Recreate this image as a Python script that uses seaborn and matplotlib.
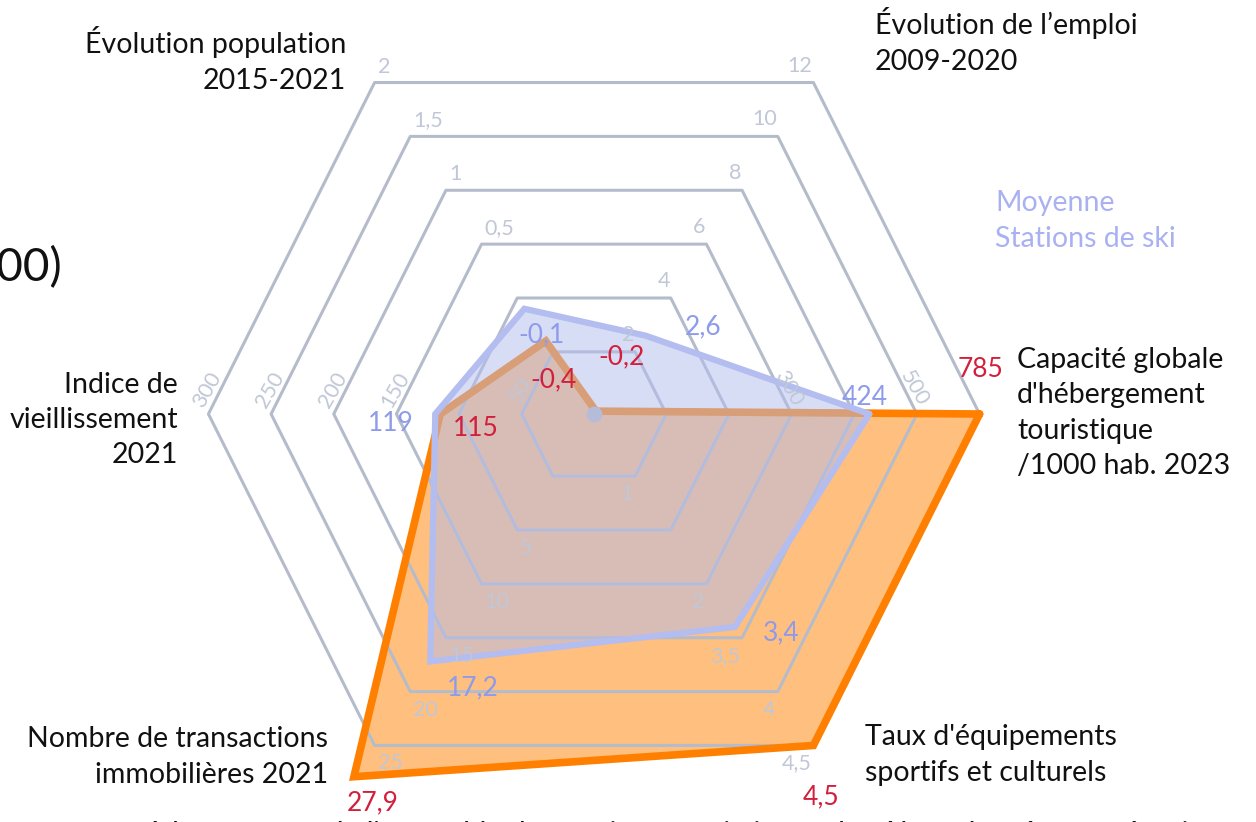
import numpy as np
import pandas as pd
import seaborn as sns
import matplotlib.pyplot as plt

# spokes, counterclockwise starting from the right-hand one
spoke_titles = [
    "Capacité globale\nd'hébergement\ntouristique\n/1000 hab. 2023",
    "Évolution de l’emploi\n2009-2020",
    "Évolution population\n2015-2021",
    "Indice de\nvieillissement\n2021",
    "Nombre de transactions\nimmobilières 2021",
    "Taux d'équipements\nsportifs et culturels",
]

# the station (orange) and the ski-resort average (blue)
station_values = [785, -0.2, -0.4, 115, 27.9, 4.5]
station_text = ["785", "-0,2", "-0,4", "115", "27,9", "4,5"]
moyenne_values = [424, 2.6, -0.1, 119, 17.2, 3.4]
moyenne_text = ["424", "2,6", "-0,1", "119", "17,2", "3,4"]

# scale of each spoke: value of ring 0 (centre), step between rings, cap
ring_base = [0, 0, -1, 0, -5, 1.5]
ring_step = [100, 2, 0.5, 50, 5, 0.5]
ring_cap = [600, 12, 2, 300, 30, 4.5]

# ring labels as printed on the chart (rings 1 to 6)
ring_ticks = [
    [None, None, "300", None, "500", None],
    ["2", "4", "6", "8", "10", "12"],
    [None, None, "0,5", "1", "1,5", "2"],
    ["50", None, "150", "200", "250", "300"],
    [None, "5", "10", "15", "20", "25"],
    ["1", None, "2", "3,5", "4", "4,5"],
]

# colours
GRID = "#b4bccb"
TICK = "#c0c7d6"
ORANGE = "#ff8000"
BLUE = "#b3bdef"
RED = "#d21f3c"
BLUE_TXT = "#8e9bea"

sns.set_theme(style="white")
plt.rcParams['font.family'] = ['Lato', 'DejaVu Sans']

fig = plt.figure(figsize=(12.56, 8.22), dpi=100)
ax = fig.add_axes([0, 0, 1, 1])
ax.set_xlim(0, 1256)
ax.set_ylim(822, 0)
ax.axis('off')

# geometry of the hexagon (pixel units, y pointing down)
CX, CY = 594, 414
R0, DR = 9.9, 64.6
angles = np.deg2rad([0, 56.5, 123.5, 180, 236.5, 303.5])
stretch = np.array([0.97, 1, 1, 0.97, 1, 1])
ux = np.cos(angles) * stretch
uy = -np.sin(angles) * stretch


def ring_xy(k):
    r = R0 + DR * np.asarray(k, dtype=float)
    return CX + r * ux, CY + r * uy


def value_xy(values):
    v = np.minimum(np.array(values, dtype=float), ring_cap)
    k = (v - np.array(ring_base)) / np.array(ring_step)
    return ring_xy(k)


def closed(x, y):
    return pd.DataFrame({'x': np.append(x, x[0]), 'y': np.append(y, y[0])})


sx, sy = value_xy(station_values)
mx, my = value_xy(moyenne_values)

# orange fill under the grid
ax.fill(sx, sy, color=ORANGE, alpha=0.5, lw=0, zorder=1)

# hexagonal grid
for k in range(1, 7):
    gx, gy = ring_xy([k] * 6)
    g = closed(gx, gy)
    ax.plot(g['x'], g['y'], color=GRID, lw=2.2, zorder=2)

# orange outline
sns.lineplot(data=closed(sx, sy), x='x', y='y', sort=False, estimator=None,
             color=ORANGE, lw=5.5, solid_joinstyle='miter', zorder=3, ax=ax)

# blue average on top
ax.fill(mx, my, color=BLUE, alpha=0.5, lw=0, zorder=4)
sns.lineplot(data=closed(mx, my), x='x', y='y', sort=False, estimator=None,
             color=BLUE, lw=4.5, solid_joinstyle='miter', zorder=5, ax=ax)

ax.scatter([CX], [CY], s=130, color="#b4bcd8", lw=0, zorder=6)

# ring labels: offset (px), alignment, rotation per spoke
tick_style = [
    (-3, -26, 'center', 'center', -60),
    (-1, -7, 'right', 'bottom', 0),
    (3, -6, 'left', 'bottom', 0),
    (-1, -24, 'center', 'center', 60),
    (3, 8, 'left', 'top', 0),
    (-2, 8, 'right', 'top', 0),
]
for i, ticks in enumerate(ring_ticks):
    dx, dy, ha, va, rot = tick_style[i]
    for k, t in enumerate(ticks, start=1):
        if t is None:
            continue
        gx, gy = ring_xy([k] * 6)
        ax.text(gx[i] + dx, gy[i] + dy, t, color=TICK, fontsize=15.5,
                ha=ha, va=va, rotation=rot, rotation_mode='anchor', zorder=7)

# value labels
station_off = [(1, -45), (26, -54), (8, 39), (35, 14), (19, 26), (8, 51)]
moyenne_off = [(-5, -17), (57, -9), (17, 26), (-44, 9), (43, 26), (46, 6)]
for i in range(6):
    ax.text(sx[i] + station_off[i][0], sy[i] + station_off[i][1], station_text[i],
            color=RED, fontsize=19, ha='center', va='center', zorder=8)
    ax.text(mx[i] + moyenne_off[i][0], my[i] + moyenne_off[i][1], moyenne_text[i],
            color=BLUE_TXT, fontsize=19, ha='center', va='center', zorder=8)

# spoke titles
title_pos = [
    (1017, 413, 'left'),
    (875, 41, 'left'),
    (346, 60, 'right'),
    (178, 420, 'right'),
    (328, 757, 'right'),
    (865, 755, 'left'),
]
for (x, y, ha), t in zip(title_pos, spoke_titles):
    ax.text(x, y, t, fontsize=20.5, ha=ha, va='center', linespacing=1.45,
            color='#111111', zorder=9)

ax.text(995, 221, "Moyenne\nStations de ski", fontsize=20.5, color="#a9b1f2",
        ha='left', va='center', linespacing=1.45)

# cropped surrounding texts
ax.text(62, 268, "(base 100)", fontsize=33, ha='right', va='center', color='#111111')
ax.text(150, 842, "à la moyenne de l'ensemble des stations touristiques des Alpes de même catégorie",
        fontsize=21, ha='left', va='baseline', color='#111111')

fig.savefig('out.png', dpi=100)
